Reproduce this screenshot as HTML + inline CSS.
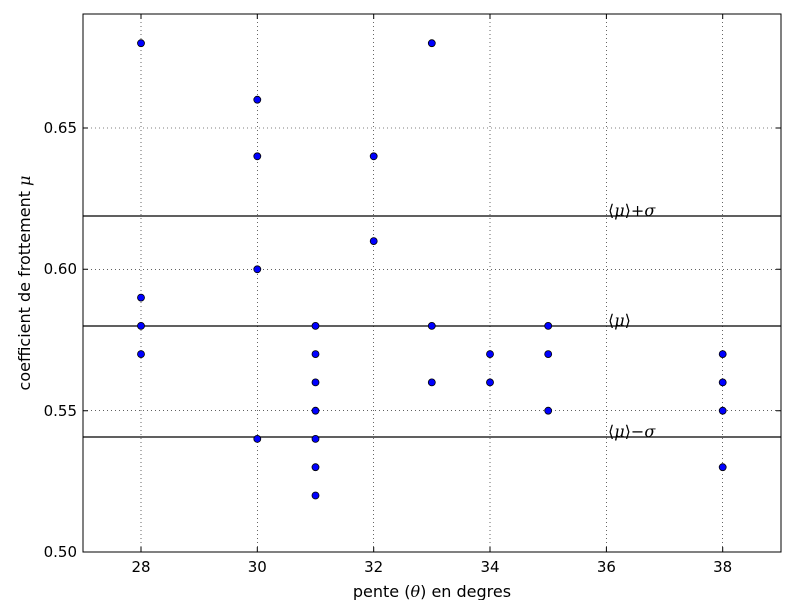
<!DOCTYPE html>
<html><head><meta charset="utf-8"><style>body{margin:0;background:#fff}</style></head><body>
<svg width="800" height="600" xmlns="http://www.w3.org/2000/svg" font-family="'DejaVu Sans','Liberation Sans',sans-serif">
<rect width="800" height="600" fill="#fff"/>
<g stroke="#000" stroke-width="0.6" stroke-dasharray="1,3">
<line x1="141" y1="14" x2="141" y2="552"/><line x1="257.3" y1="14" x2="257.3" y2="552"/><line x1="373.7" y1="14" x2="373.7" y2="552"/><line x1="490" y1="14" x2="490" y2="552"/><line x1="606.4" y1="14" x2="606.4" y2="552"/><line x1="722.7" y1="14" x2="722.7" y2="552"/>
<line x1="83" y1="128" x2="781" y2="128"/><line x1="83" y1="269.3" x2="781" y2="269.3"/><line x1="83" y1="410.7" x2="781" y2="410.7"/>
</g>
<g stroke="#000" stroke-width="1.2">
<line x1="83" y1="216" x2="781" y2="216"/><line x1="83" y1="326" x2="781" y2="326"/><line x1="83" y1="437" x2="781" y2="437"/>
</g>
<g fill="#0000ff" stroke="#000" stroke-width="0.8">
<circle cx="141" cy="43.2" r="3.5"/><circle cx="141" cy="297.6" r="3.5"/><circle cx="141" cy="325.9" r="3.5"/><circle cx="141" cy="354.1" r="3.5"/>
<circle cx="257.3" cy="99.7" r="3.5"/><circle cx="257.3" cy="156.3" r="3.5"/><circle cx="257.3" cy="269.3" r="3.5"/><circle cx="257.3" cy="438.9" r="3.5"/>
<circle cx="315.5" cy="325.9" r="3.5"/><circle cx="315.5" cy="354.1" r="3.5"/><circle cx="315.5" cy="382.4" r="3.5"/><circle cx="315.5" cy="410.7" r="3.5"/><circle cx="315.5" cy="438.9" r="3.5"/><circle cx="315.5" cy="467.2" r="3.5"/><circle cx="315.5" cy="495.5" r="3.5"/>
<circle cx="373.7" cy="156.3" r="3.5"/><circle cx="373.7" cy="241.1" r="3.5"/>
<circle cx="431.8" cy="43.2" r="3.5"/><circle cx="431.8" cy="325.9" r="3.5"/><circle cx="431.8" cy="382.4" r="3.5"/>
<circle cx="490" cy="354.1" r="3.5"/><circle cx="490" cy="382.4" r="3.5"/>
<circle cx="548.2" cy="325.9" r="3.5"/><circle cx="548.2" cy="354.1" r="3.5"/><circle cx="548.2" cy="410.7" r="3.5"/>
<circle cx="722.7" cy="354.1" r="3.5"/><circle cx="722.7" cy="382.4" r="3.5"/><circle cx="722.7" cy="410.7" r="3.5"/><circle cx="722.7" cy="467.2" r="3.5"/>
</g>
<g stroke="#000" stroke-width="1">
<path d="M141 552v-5M257.3 552v-5M373.7 552v-5M490 552v-5M606.4 552v-5M722.7 552v-5M141 14v5M257.3 14v5M373.7 14v5M490 14v5M606.4 14v5M722.7 14v5"/>
<path d="M83 552h5M83 410.7h5M83 269.3h5M83 128h5M781 552h-5M781 410.7h-5M781 269.3h-5M781 128h-5"/>
</g>
<rect x="83" y="14" width="698" height="538" fill="none" stroke="#000" stroke-width="1"/>
<g font-size="15" text-anchor="middle">
<text x="141" y="572">28</text><text x="257.3" y="572">30</text><text x="373.7" y="572">32</text><text x="490" y="572">34</text><text x="606.4" y="572">36</text><text x="722.7" y="572">38</text>
</g>
<g font-size="15" text-anchor="end">
<text x="77" y="557">0.50</text><text x="77" y="416">0.55</text><text x="77" y="274">0.60</text><text x="77" y="133">0.65</text>
</g>
<text x="432" y="597" font-size="16" text-anchor="middle">pente (<tspan font-family="'DejaVu Serif',serif" font-style="italic">θ</tspan>) en degres</text>
<text transform="translate(30,283) rotate(-90)" font-size="16" text-anchor="middle">coefficient de frottement <tspan font-family="'DejaVu Serif',serif" font-style="italic">μ</tspan></text>
<g font-family="'DejaVu Serif',serif" font-size="16">
<text x="608" y="216">⟨<tspan font-style="italic">μ</tspan>⟩+<tspan font-style="italic">σ</tspan></text>
<text x="608" y="326">⟨<tspan font-style="italic">μ</tspan>⟩</text>
<text x="608" y="437">⟨<tspan font-style="italic">μ</tspan>⟩−<tspan font-style="italic">σ</tspan></text>
</g>
</svg>
</body></html>
